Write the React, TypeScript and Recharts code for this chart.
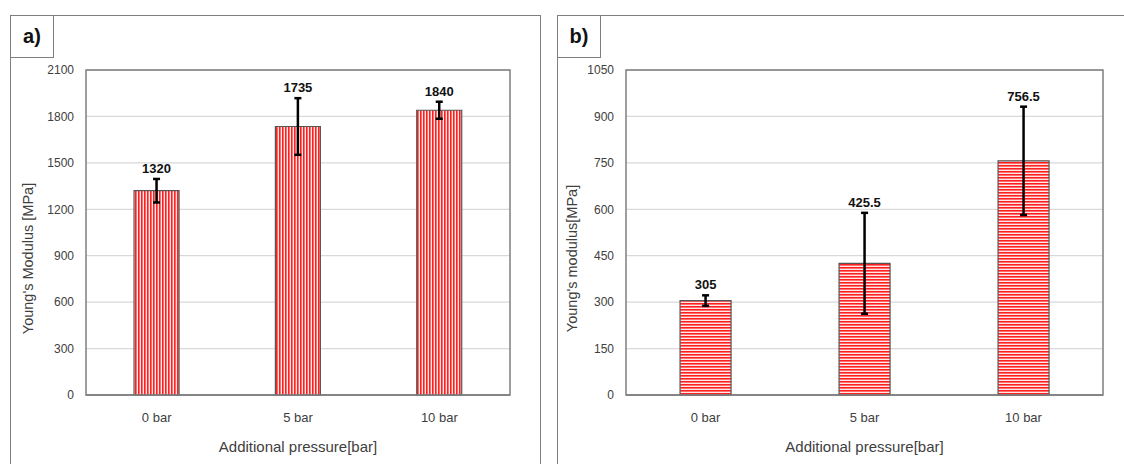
import React from "react";
import {
    BarChart,
    Bar,
    XAxis,
    YAxis,
    CartesianGrid,
    ErrorBar,
    LabelList,
    ReferenceArea
} from "recharts";

// pressure categories, shared by both panels
const pressures = ["0 bar", "5 bar", "10 bar"];

// panel a) Young's Modulus [MPa]
const modulusA = [1320, 1735, 1840];
const errorA = [76, 183, 55];
const ticksA = [0, 300, 600, 900, 1200, 1500, 1800, 2100];

// panel b) Young's modulus [MPa]
const modulusB = [305, 425.5, 756.5];
const errorB = [17, 163, 175];
const ticksB = [0, 150, 300, 450, 600, 750, 900, 1050];

const FONT = "'Liberation Sans', Arial, sans-serif";
const GRAY = "#7f7f7f";

const makeRows = (values: number[], errors: number[]) =>
    pressures.map((p, i) => ({ name: p, value: values[i], err: errors[i] }));

interface PanelProps {
    id: string;
    rows: { name: string; value: number; err: number }[];
    ticks: number[];
    yTitle: string;
    width: number;
    yAxisWidth: number;
    right: number;
    vertical: boolean;
}

function Panel({ id, rows, ticks, yTitle, width, yAxisWidth, right, vertical }: PanelProps) {
    const max = ticks[ticks.length - 1];

    const valueLabel = (props: any) => {
        const { x, y, width: w, height: h, index, value } = props;
        const row = rows[index];
        const pxPerUnit = Number(h) / Number(value);
        const top = Number(y) - row.err * pxPerUnit;
        return (
            <text
                x={Number(x) + Number(w) / 2}
                y={top - 6}
                textAnchor="middle"
                fontFamily={FONT}
                fontSize={13}
                fontWeight="bold"
                fill="#111"
            >
                {row.value}
            </text>
        );
    };

    const titleY = (props: any) => {
        const vb = props.viewBox;
        const cx = 28;
        const cy = vb.y + vb.height / 2 + 26;
        return (
            <text
                x={cx}
                y={cy}
                transform={`rotate(-90 ${cx} ${cy})`}
                textAnchor="middle"
                dominantBaseline="central"
                fontFamily={FONT}
                fontSize={14.5}
                fill="#404040"
            >
                {yTitle}
            </text>
        );
    };

    const titleX = (props: any) => {
        const vb = props.viewBox;
        return (
            <text
                x={vb.x + vb.width / 2}
                y={vb.y + 51}
                textAnchor="middle"
                dominantBaseline="central"
                fontFamily={FONT}
                fontSize={15}
                fill="#404040"
            >
                Additional pressure[bar]
            </text>
        );
    };

    return (
        <BarChart
            width={width}
            height={464}
            data={rows}
            margin={{ top: 70, right: right, left: 0, bottom: 0 }}
            barCategoryGap="34%"
        >
            <defs>
                {vertical ? (
                    <pattern id={id} width="3" height="3" patternUnits="userSpaceOnUse">
                        <rect width="3" height="3" fill="#ffe8e8" />
                        <rect width="1.6" height="3" fill="#ff1f1f" />
                    </pattern>
                ) : (
                    <pattern id={id} width="3" height="3" patternUnits="userSpaceOnUse">
                        <rect width="3" height="3" fill="#ffe8e8" />
                        <rect width="3" height="1.6" fill="#ff1f1f" />
                    </pattern>
                )}
            </defs>
            <CartesianGrid vertical={false} stroke="#d9d9d9" strokeWidth={1.3} />
            <XAxis
                dataKey="name"
                height={69}
                tickLine={false}
                axisLine={{ stroke: GRAY, strokeWidth: 1.5 }}
                tickMargin={12}
                tick={{ fontFamily: FONT, fontSize: 13, fill: "#404040" }}
                label={{ content: titleX }}
            />
            <YAxis
                width={yAxisWidth}
                domain={[0, max]}
                ticks={ticks}
                interval={0}
                tickLine={false}
                tickSize={0}
                axisLine={false}
                tickMargin={12}
                tick={{ fontFamily: FONT, fontSize: 12, fill: "#404040" }}
                label={{ content: titleY }}
            />
            <ReferenceArea
                y1={0}
                y2={max}
                fill="none"
                stroke={GRAY}
                strokeWidth={1.5}
                ifOverflow="visible"
            />
            <Bar
                dataKey="value"
                fill={`url(#${id})`}
                stroke="#555"
                strokeWidth={1.2}
                isAnimationActive={false}
            >
                <ErrorBar dataKey="err" width={3.5} strokeWidth={2.5} stroke="#000" direction="y" />
                <LabelList dataKey="value" content={valueLabel} />
            </Bar>
        </BarChart>
    );
}

const boxStyle: React.CSSProperties = {
    position: "absolute",
    border: `1.5px solid ${GRAY}`,
    boxSizing: "border-box",
    background: "#fff"
};

const tagStyle: React.CSSProperties = {
    ...boxStyle,
    top: 15,
    width: 44,
    height: 43,
    fontFamily: FONT,
    fontWeight: "bold",
    fontSize: 20,
    lineHeight: "40px",
    textAlign: "center",
    color: "#111"
};

export default function App() {
    return (
        <div
            style={{
                position: "absolute",
                left: 0,
                top: 0,
                width: 1124,
                height: 464,
                overflow: "hidden",
                background: "#fff"
            }}
        >
            <div style={{ ...boxStyle, left: 10, top: 15, width: 531, height: 470 }} />
            <div style={{ ...boxStyle, left: 557, top: 15, width: 600, height: 470 }} />
            <div style={{ position: "absolute", left: 0, top: 0 }}>
                <Panel
                    id="vstripe"
                    rows={makeRows(modulusA, errorA)}
                    ticks={ticksA}
                    yTitle="Young's Modulus [MPa]"
                    width={540}
                    yAxisWidth={86}
                    right={30}
                    vertical={true}
                />
            </div>
            <div style={{ position: "absolute", left: 544, top: 0 }}>
                <Panel
                    id="hstripe"
                    rows={makeRows(modulusB, errorB)}
                    ticks={ticksB}
                    yTitle="Young's modulus[MPa]"
                    width={580}
                    yAxisWidth={82}
                    right={21}
                    vertical={false}
                />
            </div>
            <div style={{ ...tagStyle, left: 10 }}>a)</div>
            <div style={{ ...tagStyle, left: 557 }}>b)</div>
        </div>
    );
}
